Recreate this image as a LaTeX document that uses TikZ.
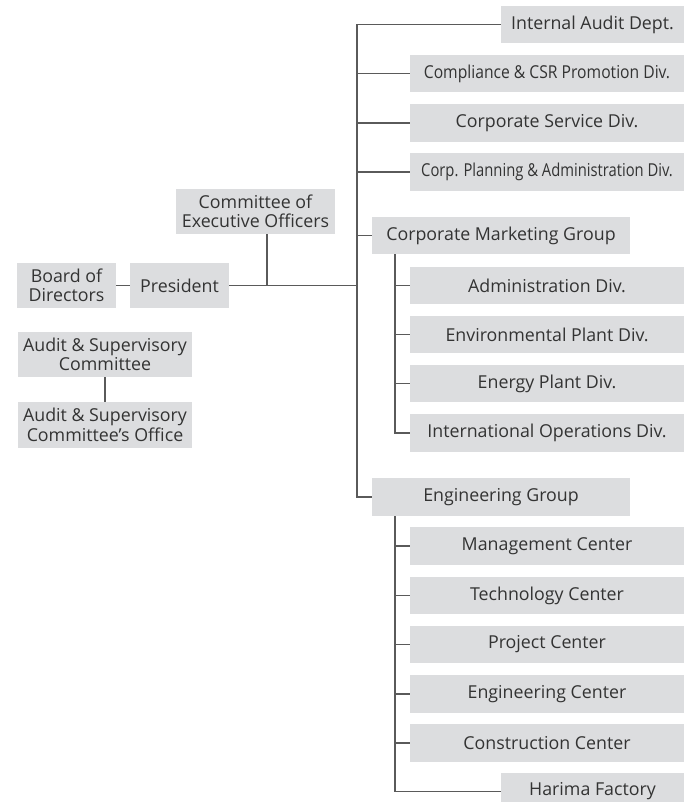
\documentclass[tikz,border=0pt]{standalone}
\usepackage{fontspec}
\setmainfont{Open Sans}
\usepackage{graphicx}
\definecolor{boxfill}{HTML}{DCDDDF}
\definecolor{linecol}{HTML}{5A5A5A}
\definecolor{txtcol}{HTML}{333333}
\tikzset{
  box/.style={fill=boxfill, draw=none, inner sep=0pt, align=center, text=txtcol,
    font=\fontsize{17.8}{19.5}\selectfont},
  conn/.style={draw=linecol, line width=1.6pt},
}
\newcommand{\cond}[2]{\scalebox{#1}[1]{#2}}
\begin{document}
\begin{tikzpicture}[x=1pt,y=-1pt]
\useasboundingbox (0,0) rectangle (684,802);
\clip (0,0) rectangle (684,802);
% right column boxes
\node[box, minimum width=183, minimum height=37] (ia) at (592.5,24.5) {Internal Audit Dept.};
\node[box, minimum width=274, minimum height=37] (comp) at (547,73.5) {\cond{0.88}{Compliance \& CSR Promotion Div.}};
\node[box, minimum width=274, minimum height=38] (cs) at (547,123) {Corporate Service Div.};
\node[box, minimum width=274, minimum height=38] (cp) at (547,172) {\cond{0.83}{Corp. Planning \& Administration Div.}};
\node[box, minimum width=258, minimum height=37] (cmg) at (501,235.5) {Corporate Marketing Group};
\node[box, minimum width=274, minimum height=37] (adm) at (547,285.5) {Administration Div.};
\node[box, minimum width=274, minimum height=37] (env) at (547,334.5) {Environmental Plant Div.};
\node[box, minimum width=274, minimum height=37] (enp) at (547,383.5) {Energy Plant Div.};
\node[box, minimum width=274, minimum height=38] (intl) at (547,433) {International Operations Div.};
\node[box, minimum width=258, minimum height=38] (eg) at (501,497) {Engineering Group};
\node[box, minimum width=274, minimum height=38] (mc) at (547,546) {Management Center};
\node[box, minimum width=274, minimum height=37] (tc) at (547,595.5) {Technology Center};
\node[box, minimum width=274, minimum height=37] (pc) at (547,644.5) {Project Center};
\node[box, minimum width=274, minimum height=38] (ec) at (547,694) {Engineering Center};
\node[box, minimum width=274, minimum height=38] (cc) at (547,743) {Construction Center};
\node[box, minimum width=183, minimum height=38] (hf) at (592.5,791.5) {Harima Factory};
% left boxes
\node[box, minimum width=159, minimum height=45] (ceo) at (255.5,211.5) {Committee of\\Executive Officers};
\node[box, minimum width=99, minimum height=45] (bod) at (66.5,285.5) {Board of\\Directors};
\node[box, minimum width=99, minimum height=45] (pres) at (179.5,285.5) {President};
\node[box, minimum width=174, minimum height=45] (asc) at (105,354.5) {Audit \& Supervisory\\Committee};
\node[box, minimum width=174, minimum height=46] (aso) at (105,425) {Audit \& Supervisory\\Committee’s Office};
% coordinates
\coordinate (sp) at (357,0);
\coordinate (s1) at (395,0);
\coordinate (jx) at (267,285.5);
% connectors
\draw[conn] (bod) -- (pres);
\draw[conn] (pres.east) -- (pres.east -| sp);
\draw[conn] (ceo.south -| jx) -- (jx);
\draw[conn] (asc.south) -- (aso.north);
\draw[conn] (ia.west -| sp) -- (eg.west -| sp) -- (eg.west);
\draw[conn] (ia.west -| sp) -- (ia.west);
\draw[conn] (comp.west -| sp) -- (comp.west);
\draw[conn] (cs.west -| sp) -- (cs.west);
\draw[conn] (cp.west -| sp) -- (cp.west);
\draw[conn] (cmg.west -| sp) -- (cmg.west);
\draw[conn] (cmg.south -| s1) -- (intl.west -| s1) -- (intl.west);
\draw[conn] (adm.west -| s1) -- (adm.west);
\draw[conn] (env.west -| s1) -- (env.west);
\draw[conn] (enp.west -| s1) -- (enp.west);
\draw[conn] (eg.south -| s1) -- (hf.west -| s1) -- (hf.west);
\draw[conn] (mc.west -| s1) -- (mc.west);
\draw[conn] (tc.west -| s1) -- (tc.west);
\draw[conn] (pc.west -| s1) -- (pc.west);
\draw[conn] (ec.west -| s1) -- (ec.west);
\draw[conn] (cc.west -| s1) -- (cc.west);
\end{tikzpicture}
\end{document}
